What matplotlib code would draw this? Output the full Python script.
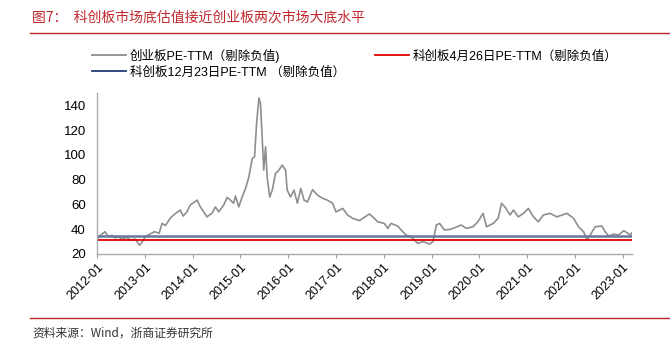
import numpy as np
import pandas as pd
import matplotlib
matplotlib.use("Agg")
import matplotlib.pyplot as plt
import matplotlib.dates as mdates
from matplotlib.lines import Line2D

plt.rcParams['font.family'] = ['Liberation Sans', 'Noto Sans CJK SC', 'DejaVu Sans']

# ChiNext PE-TTM (negative values removed)
dates = [
    "2012-01-04", "2012-01-27", "2012-03-02", "2012-03-28", "2012-04-22", "2012-05-18",
    "2012-06-13", "2012-07-08", "2012-08-14", "2012-09-12", "2012-10-19", "2012-11-21",
    "2012-12-13", "2013-01-04", "2013-02-08", "2013-03-15", "2013-04-20", "2013-05-12",
    "2013-06-07", "2013-07-13", "2013-08-08", "2013-09-28", "2013-10-20", "2013-11-18",
    "2013-12-13", "2014-02-03", "2014-03-01", "2014-03-26", "2014-04-20", "2014-05-29",
    "2014-06-24", "2014-07-19", "2014-08-26", "2014-09-21", "2014-10-16", "2014-11-10",
    "2014-11-24", "2014-12-19", "2015-01-14", "2015-02-09", "2015-03-06", "2015-04-01",
    "2015-04-19", "2015-05-04", "2015-05-22", "2015-06-03", "2015-06-17", "2015-06-28",
    "2015-07-12", "2015-07-24", "2015-08-13", "2015-09-01", "2015-09-26", "2015-10-22",
    "2015-11-16", "2015-12-12", "2015-12-24", "2016-01-19", "2016-02-14", "2016-03-11",
    "2016-04-06", "2016-05-01", "2016-05-27", "2016-07-05", "2016-08-11", "2016-09-19",
    "2016-10-26", "2016-12-05", "2016-12-31", "2017-02-21", "2017-03-29", "2017-05-08",
    "2017-06-28", "2017-07-24", "2017-09-13", "2017-10-20", "2017-11-14", "2018-01-04",
    "2018-01-30", "2018-02-24", "2018-04-16", "2018-05-25", "2018-06-20", "2018-07-27",
    "2018-09-16", "2018-10-26", "2018-12-16", "2019-01-11", "2019-02-06", "2019-03-03",
    "2019-04-08", "2019-05-29", "2019-08-15", "2019-09-23", "2019-11-13", "2019-12-20",
    "2020-01-29", "2020-02-24", "2020-04-16", "2020-05-23", "2020-06-18", "2020-07-14",
    "2020-08-22", "2020-09-17", "2020-10-24", "2020-12-03", "2021-01-09", "2021-02-17",
    "2021-03-26", "2021-05-04", "2021-06-24", "2021-08-14", "2021-10-31", "2021-12-20",
    "2022-01-27", "2022-03-07", "2022-04-02", "2022-04-27", "2022-06-03", "2022-07-24",
    "2022-08-19", "2022-09-14", "2022-10-23", "2022-11-29", "2023-01-08", "2023-02-28",
    "2023-03-10",
]
chinext_pe = [
    32.5, 35.0, 38.0, 34.0, 35.0, 33.0,
    34.0, 32.0, 33.5, 31.3, 32.0, 27.0,
    30.0, 34.0, 36.0, 38.0, 36.7, 44.7,
    43.0, 48.8, 51.5, 55.5, 50.6, 54.0,
    59.5, 63.5, 58.0, 54.0, 50.0, 53.0,
    58.0, 54.0, 59.5, 65.7, 63.5, 61.0,
    66.8, 58.0, 66.0, 73.0, 82.0, 97.0,
    98.5, 125.0, 146.0, 141.5, 112.0, 87.7,
    106.5, 82.0, 66.0, 71.6, 85.0, 87.7,
    91.8, 87.7, 71.6, 66.0, 71.6, 61.0,
    73.0, 63.5, 62.0, 72.0, 67.6, 65.0,
    63.5, 61.0, 54.0, 56.8, 51.5, 48.8,
    46.9, 48.8, 52.3, 48.8, 46.0, 44.7,
    40.7, 44.7, 42.6, 38.0, 35.3, 34.0,
    28.6, 30.0, 28.0, 30.0, 43.4, 44.7,
    39.4, 40.0, 43.4, 40.7, 42.0, 46.0,
    52.8, 42.0, 44.7, 48.8, 60.9, 58.0,
    51.5, 55.5, 50.0, 52.8, 56.8, 50.0,
    46.0, 51.5, 52.8, 50.0, 52.8, 48.8,
    42.0, 38.0, 31.3, 35.3, 42.0, 42.6,
    38.0, 34.5, 36.0, 35.3, 38.8, 35.3,
    37.0,
]
# STAR market PE-TTM on the two reference days
star_pe_0426 = 31.3
star_pe_1223 = 34.8

labels = [
    "创业板PE-TTM（剔除负值)",
    "科创板4月26日PE-TTM（剔除负值）",
    "科创板12月23日PE-TTM （剔除负值）",
]
year_ticks = [f"{y}-01-01" for y in range(2012, 2024)]

t = pd.to_datetime(dates)

fig = plt.figure(figsize=(6.7, 3.43), dpi=100)
ax = fig.add_axes([0.1448, 0.2595, 0.7985, 0.4694])

ax.plot(t, chinext_pe, color="#8e8e8e", lw=1.2)
ax.axhline(star_pe_1223, color="#67789a", lw=1.8)
ax.axhline(star_pe_0426, color="#e00000", lw=1.3)

ax.set_xlim(pd.Timestamp("2012-01-01"), pd.Timestamp("2023-03-12"))
ax.set_ylim(20, 150)
ax.set_yticks(np.arange(20, 141, 20))
ax.set_xticks(pd.to_datetime(year_ticks))
ax.xaxis.set_major_formatter(mdates.DateFormatter("%Y-01"))
plt.setp(ax.get_xticklabels(), rotation=45, ha="right", rotation_mode="anchor")
ax.tick_params(axis="x", length=3, color="#999999", labelsize=9, pad=2)
ax.tick_params(axis="y", length=0, labelsize=9.5, pad=8)

for side in ("top", "right"):
    ax.spines[side].set_visible(False)
for side in ("left", "bottom"):
    ax.spines[side].set_color("#aaaaaa")
    ax.spines[side].set_linewidth(1.0)

handles = [
    Line2D([], [], color="#8e8e8e", lw=1.3),
    Line2D([], [], color="#233d7a", lw=1.3),
    Line2D([], [], color="#e00000", lw=1.3),
]
ax.legend(handles, [labels[0], labels[2], labels[1]], ncol=2, frameon=False,
          loc="upper left", bbox_to_anchor=(0.138, 0.858), bbox_transform=fig.transFigure,
          handlelength=2.7, handletextpad=0.3, columnspacing=2.4,
          labelspacing=0.25, borderaxespad=0, borderpad=0,
          prop={"family": ["Liberation Sans", "Noto Sans CJK SC"], "size": 9})

# title and source notes with their red rules
fig.text(32 / 670, 1 - 18 / 343, "图7：  科创板市场底估值接近创业板两次市场大底水平",
         color="#c0272d", fontsize=10, va="center", ha="left",
         family=["Noto Sans CJK SC"])
fig.add_artist(Line2D([30 / 670, 1.0], [1 - 33 / 343] * 2, color="#c0272d", lw=1.0))
fig.add_artist(Line2D([30 / 670, 1.0], [1 - 318 / 343] * 2, color="#c0272d", lw=1.0))
fig.text(32 / 670, 1 - 333 / 343, "资料来源：Wind，浙商证券研究所",
         color="#333333", fontsize=8.5, va="center", ha="left",
         family=["Noto Sans CJK SC"])

fig.savefig("out.png", dpi=100)
